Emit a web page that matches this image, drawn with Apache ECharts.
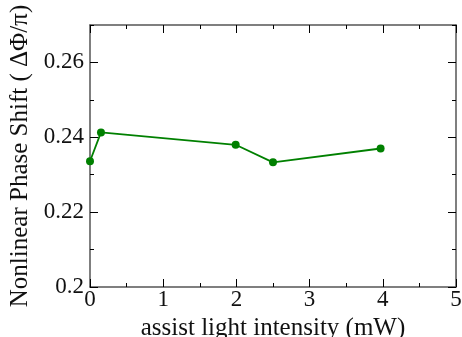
<!DOCTYPE html>
<html>
<head>
<meta charset="utf-8">
<script src="https://cdn.jsdelivr.net/npm/echarts@6/dist/echarts.min.js"></script>
<style>html,body{margin:0;padding:0;background:#fff;}#c{width:462px;height:337px;}</style>
</head>
<body>
<div id="c"></div>
<script>
const xValues = [0, 0.15, 1.99, 2.50, 3.97];
const yValues = [0.2336, 0.2413, 0.2380, 0.2333, 0.2370];
const yMajorTicks = [0.2, 0.22, 0.24, 0.26];
const xTitle = 'assist light intensity (mW)';
const yTitle = 'Nonlinear Phase Shift ( ΔΦ/π)';

const FONT = 'Liberation Serif';
const AX = '#555';
const chart = echarts.init(document.getElementById('c'), null, {renderer: 'canvas'});
const yLabel = v => {
  const r = Math.round(v * 100);
  return (r % 2 === 0 && r < 27) ? String(r / 100) : '';
};
const yBase = {type: 'value', min: 0.2, max: 0.27, interval: 0.01, splitLine: {show: false}};
chart.setOption({
  animation: false,
  grid: {left: 90, right: 6, top: 25, bottom: 50, containLabel: false, outerBoundsMode: 'none'},
  xAxis: [
    {
      type: 'value', position: 'bottom', min: 0, max: 5, interval: 1,
      axisLine: {lineStyle: {color: AX, width: 1.5}},
      axisTick: {inside: true, length: 8, lineStyle: {color: '#000', width: 1}},
      minorTick: {show: true, splitNumber: 2, length: 4, lineStyle: {color: '#000', width: 1}},
      splitLine: {show: false}, minorSplitLine: {show: false},
      axisLabel: {fontFamily: FONT, fontSize: 23, color: '#111', margin: 1},
      name: xTitle, nameLocation: 'middle', nameGap: 26,
      nameTextStyle: {fontFamily: FONT, fontSize: 25, color: '#111'}
    },
    {
      type: 'value', position: 'top', min: 0, max: 5, interval: 1,
      axisLine: {lineStyle: {color: AX, width: 1.5}},
      axisTick: {inside: true, length: 8, lineStyle: {color: '#000', width: 1}},
      minorTick: {show: true, splitNumber: 2, length: 4, lineStyle: {color: '#000', width: 1}},
      splitLine: {show: false}, axisLabel: {show: false}
    }
  ],
  yAxis: [
    Object.assign({}, yBase, {
      position: 'left',
      axisLine: {lineStyle: {color: AX, width: 1.5}},
      axisTick: {inside: true, length: 4, lineStyle: {color: '#000', width: 1}},
      axisLabel: {fontFamily: FONT, fontSize: 23, color: '#111', margin: 6, formatter: yLabel},
      name: yTitle, nameLocation: 'middle', nameGap: 53,
      nameTextStyle: {fontFamily: FONT, fontSize: 25, color: '#111'}
    }),
    Object.assign({}, yBase, {
      position: 'left',
      axisLine: {show: false},
      axisTick: {inside: true, length: 8, customValues: yMajorTicks, lineStyle: {color: '#000', width: 1}},
      axisLabel: {show: false}
    }),
    Object.assign({}, yBase, {
      position: 'right',
      axisLine: {lineStyle: {color: AX, width: 1.5}},
      axisTick: {inside: true, length: 4, lineStyle: {color: '#000', width: 1}},
      axisLabel: {show: false}
    }),
    Object.assign({}, yBase, {
      position: 'right',
      axisLine: {show: false},
      axisTick: {inside: true, length: 8, customValues: yMajorTicks, lineStyle: {color: '#000', width: 1}},
      axisLabel: {show: false}
    })
  ],
  series: [{
    type: 'line',
    data: xValues.map((x, i) => [x, yValues[i]]),
    symbol: 'circle', symbolSize: 8,
    lineStyle: {color: '#008000', width: 1.8},
    itemStyle: {color: '#008000'}
  }]
});
</script>
</body>
</html>
